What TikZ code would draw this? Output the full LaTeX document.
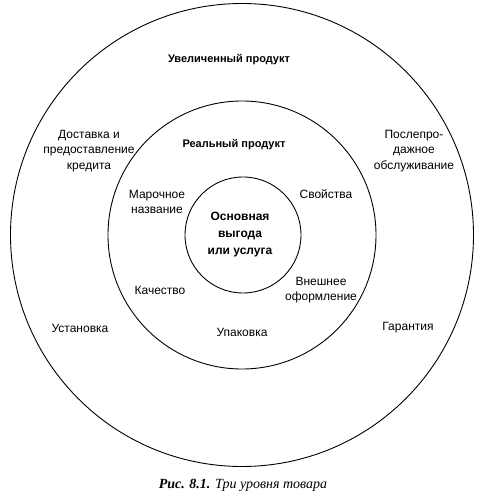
\documentclass[tikz,border=0pt]{standalone}
\usepackage{fontspec}
\setmainfont{Liberation Sans}
\newfontfamily\capfont{Liberation Serif}
\usepackage{tikz}
\usetikzlibrary{shapes, positioning, calc}

\tikzset{
  ring/.style={draw=black, line width=0.9pt, circle, inner sep=0pt},
  lbl/.style={align=center, inner sep=0pt, font=\fontsize{12}{15.5}\selectfont},
  head/.style={lbl, font=\fontsize{11}{17}\selectfont\bfseries}
}

\begin{document}
\begin{tikzpicture}[x=1pt, y=1pt]
  \useasboundingbox (0,0) rectangle (482,496);

  % three levels
  \node[ring, minimum size=463pt] (outer) at (242,261) {};
  \node[ring, minimum size=268pt] (middle) at (242,261) {};
  \node[ring, minimum size=116pt] (inner) at (243,261) {};

  % titles
  \node[head] (aug) at (229,436) {Увеличенный продукт};
  \node[head] (real) at (234,351) {Реальный продукт};
  \node[head, font=\fontsize{12}{17}\selectfont\bfseries] (core) at (240,261) {Основная\\выгода\\или услуга};

  % augmented product
  \node[lbl] (deliv) at (89,345) {Доставка и\\предоставление\\кредита};
  \node[lbl] (after) at (414,345) {Послепро-\\дажное\\обслуживание};
  \node[lbl] (install) at (80,168) {Установка};
  \node[lbl] (warr) at (408,168) {Гарантия};

  % actual product
  \node[lbl] (brand) at (157,294) {Марочное\\название};
  \node[lbl] (feat) at (326,302) {Свойства};
  \node[lbl] (qual) at (160,206) {Качество};
  \node[lbl] (design) at (321,206) {Внешнее\\оформление};
  \node[lbl] (pack) at (242,164) {Упаковка};

  \node[inner sep=0pt, font=\capfont\fontsize{14}{16}\selectfont\itshape] (cap) at (243,11)
    {\textbf{Рис. 8.1.} Три уровня товара};
\end{tikzpicture}
\end{document}
